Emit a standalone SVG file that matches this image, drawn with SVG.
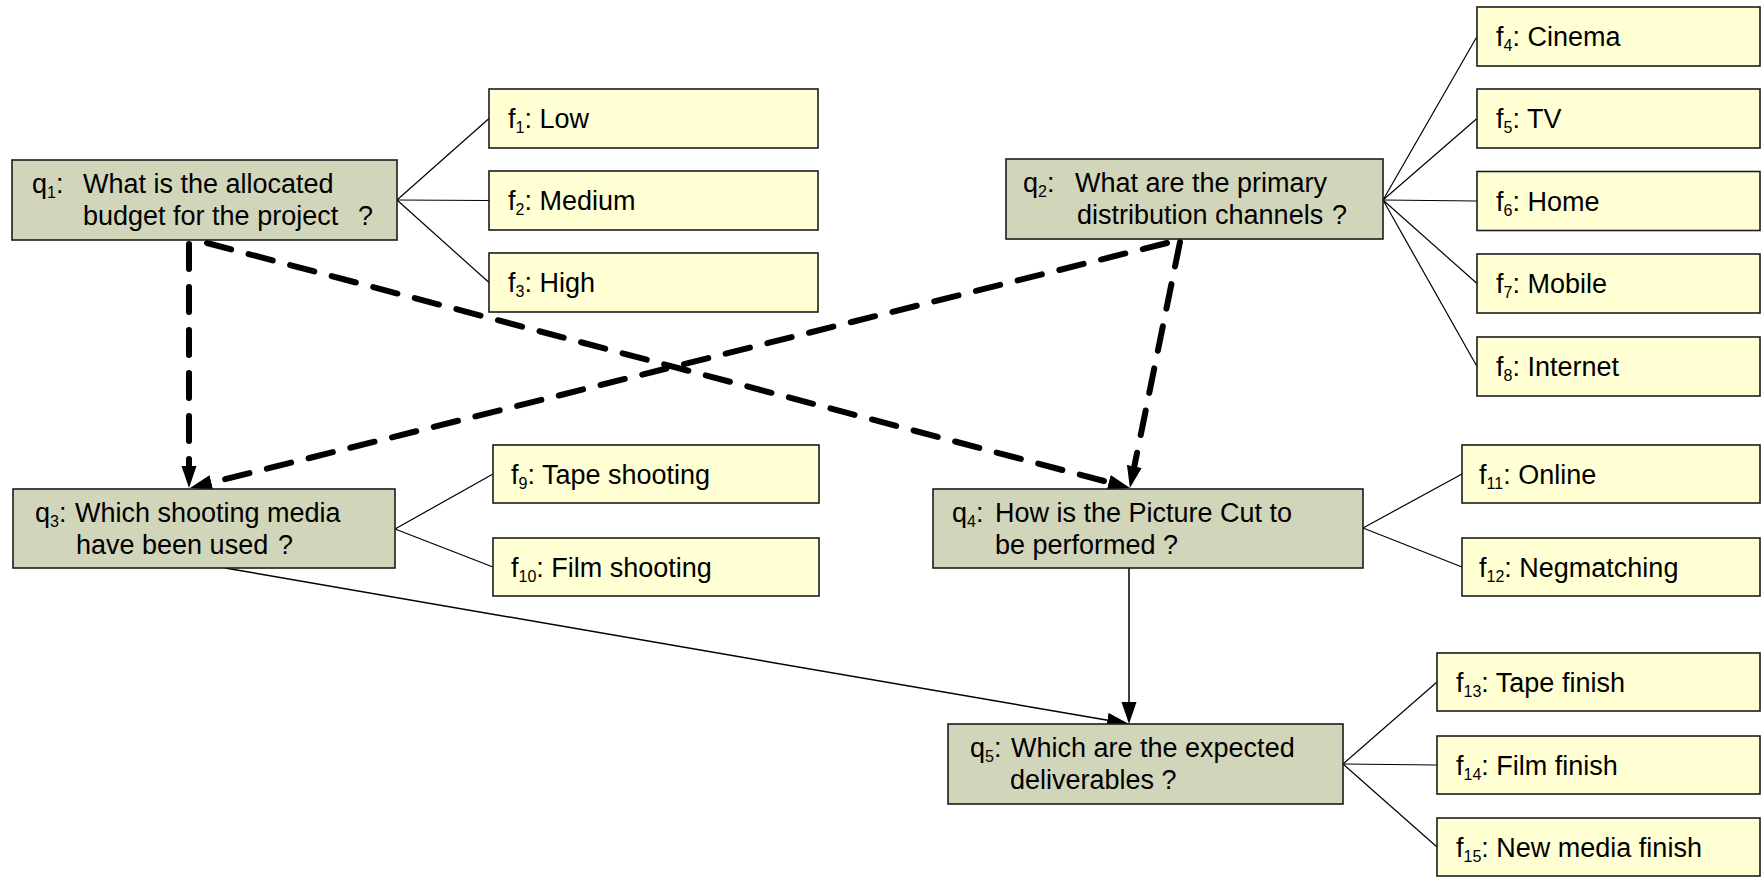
<svg xmlns="http://www.w3.org/2000/svg" width="1763" height="882" viewBox="0 0 1763 882">
  <style>
    .q rect { fill: #D1D5B9; stroke: #1c1c1c; stroke-width: 1.6; }
    .f rect { fill: #FFFFD3; stroke: #1c1c1c; stroke-width: 1.6; }
    text { font-family: "Liberation Sans", Arial, sans-serif; font-size: 27px; fill: #000; }
    .s { font-size: 16px; }
    .fan line { stroke: #000; stroke-width: 1.2; fill: none; }
    .dash { stroke: #000; stroke-width: 6; stroke-dasharray: 25 18; stroke-linecap: round; fill: none; }
    .solid { stroke: #000; stroke-width: 1.5; fill: none; }
  </style>
  <defs>
    <marker id="head" markerUnits="userSpaceOnUse" markerWidth="24" markerHeight="16" refX="2" refY="7.5" orient="auto">
      <path d="M0,0 L22,7.5 L0,15 Z" fill="#000"/>
    </marker>
  </defs>

  <rect width="1763" height="882" fill="#fff"/>

  <!-- fan lines from questions to their facets -->
  <g id="fans" class="fan">
    <line x1="397" y1="200" x2="489" y2="118.5"/>
    <line x1="397" y1="200" x2="489" y2="200.5"/>
    <line x1="397" y1="200" x2="489" y2="282.5"/>

    <line x1="1383" y1="200" x2="1477" y2="36.5"/>
    <line x1="1383" y1="200" x2="1477" y2="118.5"/>
    <line x1="1383" y1="200" x2="1477" y2="201"/>
    <line x1="1383" y1="200" x2="1477" y2="283.5"/>
    <line x1="1383" y1="200" x2="1477" y2="366.5"/>

    <line x1="395" y1="529" x2="493" y2="474"/>
    <line x1="395" y1="529" x2="493" y2="567"/>

    <line x1="1363" y1="528" x2="1462" y2="474"/>
    <line x1="1363" y1="528" x2="1462" y2="567"/>

    <line x1="1343" y1="764" x2="1437" y2="682"/>
    <line x1="1343" y1="764" x2="1437" y2="765"/>
    <line x1="1343" y1="764" x2="1437" y2="847"/>
  </g>

  <!-- dependency connectors -->
  <g id="connectors">
    <line class="dash" x1="189" y1="244" x2="189" y2="468" marker-end="url(#head)"/>
    <line class="dash" x1="207" y1="243" x2="1110.7" y2="482.8" marker-end="url(#head)"/>
    <line class="dash" x1="1167" y1="243" x2="209.4" y2="483.1" marker-end="url(#head)"/>
    <line class="dash" x1="1180" y1="242" x2="1133.9" y2="468.4" marker-end="url(#head)"/>
    <line class="solid" x1="225" y1="568" x2="1109.3" y2="720.6" marker-end="url(#head)"/>
    <line class="solid" x1="1129" y1="567" x2="1129" y2="704" marker-end="url(#head)"/>
  </g>

  <!-- question nodes -->
  <g id="q1" class="q">
    <rect x="12" y="160" width="385" height="80"/>
    <text x="32" y="193">q<tspan class="s" dy="5">1</tspan><tspan dy="-5">:</tspan></text>
    <text x="83" y="193">What is the allocated</text>
    <text x="83" y="225">budget for the project<tspan x="358">?</tspan></text>
  </g>
  <g id="q2" class="q">
    <rect x="1006" y="159" width="377" height="80"/>
    <text x="1023" y="192">q<tspan class="s" dy="5">2</tspan><tspan dy="-5">:</tspan></text>
    <text x="1075" y="192">What are the primary</text>
    <text x="1077" y="224">distribution channels<tspan x="1332">?</tspan></text>
  </g>
  <g id="q3" class="q">
    <rect x="13" y="489" width="382" height="79"/>
    <text x="35" y="522">q<tspan class="s" dy="5">3</tspan><tspan dy="-5">:</tspan></text>
    <text x="75" y="522">Which shooting media</text>
    <text x="76" y="554">have been used<tspan x="278">?</tspan></text>
  </g>
  <g id="q4" class="q">
    <rect x="933" y="489" width="430" height="79"/>
    <text x="952" y="522">q<tspan class="s" dy="5">4</tspan><tspan dy="-5">:</tspan></text>
    <text x="995" y="522">How is the Picture Cut to</text>
    <text x="995" y="554">be performed ?</text>
  </g>
  <g id="q5" class="q">
    <rect x="948" y="724" width="395" height="80"/>
    <text x="970" y="757">q<tspan class="s" dy="5">5</tspan><tspan dy="-5">:</tspan></text>
    <text x="1011" y="757">Which are the expected</text>
    <text x="1010" y="789">deliverables ?</text>
  </g>

  <!-- facet nodes -->
  <g id="f1" class="f">
    <rect x="489" y="89" width="329" height="59"/>
    <text x="508" y="128">f<tspan class="s" dy="5">1</tspan><tspan dy="-5">: Low</tspan></text>
  </g>
  <g id="f2" class="f">
    <rect x="489" y="171" width="329" height="59"/>
    <text x="508" y="210">f<tspan class="s" dy="5">2</tspan><tspan dy="-5">: Medium</tspan></text>
  </g>
  <g id="f3" class="f">
    <rect x="489" y="253" width="329" height="59"/>
    <text x="508" y="292">f<tspan class="s" dy="5">3</tspan><tspan dy="-5">: High</tspan></text>
  </g>

  <g id="f4" class="f">
    <rect x="1477" y="7" width="283" height="59"/>
    <text x="1496" y="46">f<tspan class="s" dy="5">4</tspan><tspan dy="-5">: Cinema</tspan></text>
  </g>
  <g id="f5" class="f">
    <rect x="1477" y="89" width="283" height="59"/>
    <text x="1496" y="128">f<tspan class="s" dy="5">5</tspan><tspan dy="-5">: TV</tspan></text>
  </g>
  <g id="f6" class="f">
    <rect x="1477" y="171.5" width="283" height="59"/>
    <text x="1496" y="210.5">f<tspan class="s" dy="5">6</tspan><tspan dy="-5">: Home</tspan></text>
  </g>
  <g id="f7" class="f">
    <rect x="1477" y="254" width="283" height="59"/>
    <text x="1496" y="293">f<tspan class="s" dy="5">7</tspan><tspan dy="-5">: Mobile</tspan></text>
  </g>
  <g id="f8" class="f">
    <rect x="1477" y="337" width="283" height="59"/>
    <text x="1496" y="376">f<tspan class="s" dy="5">8</tspan><tspan dy="-5">: Internet</tspan></text>
  </g>

  <g id="f9" class="f">
    <rect x="493" y="445" width="326" height="58"/>
    <text x="511" y="484">f<tspan class="s" dy="5">9</tspan><tspan dy="-5">: Tape shooting</tspan></text>
  </g>
  <g id="f10" class="f">
    <rect x="493" y="538" width="326" height="58"/>
    <text x="511" y="577">f<tspan class="s" dy="5">10</tspan><tspan dy="-5">: Film shooting</tspan></text>
  </g>

  <g id="f11" class="f">
    <rect x="1462" y="445" width="298" height="58"/>
    <text x="1479" y="484">f<tspan class="s" dy="5">11</tspan><tspan dy="-5">: Online</tspan></text>
  </g>
  <g id="f12" class="f">
    <rect x="1462" y="538" width="298" height="58"/>
    <text x="1479" y="577">f<tspan class="s" dy="5">12</tspan><tspan dy="-5">: Negmatching</tspan></text>
  </g>

  <g id="f13" class="f">
    <rect x="1437" y="653" width="323" height="58"/>
    <text x="1456" y="692">f<tspan class="s" dy="5">13</tspan><tspan dy="-5">: Tape finish</tspan></text>
  </g>
  <g id="f14" class="f">
    <rect x="1437" y="736" width="323" height="58"/>
    <text x="1456" y="775">f<tspan class="s" dy="5">14</tspan><tspan dy="-5">: Film finish</tspan></text>
  </g>
  <g id="f15" class="f">
    <rect x="1437" y="818" width="323" height="58"/>
    <text x="1456" y="857">f<tspan class="s" dy="5">15</tspan><tspan dy="-5">: New media finish</tspan></text>
  </g>
</svg>
